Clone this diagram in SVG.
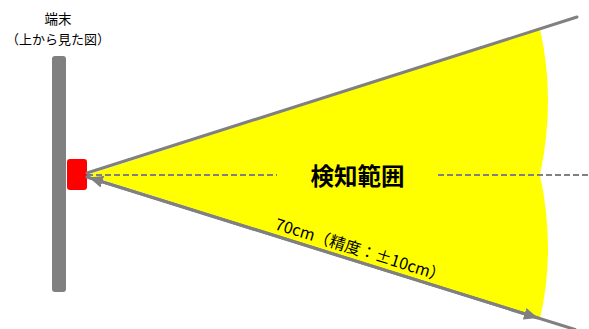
<svg xmlns="http://www.w3.org/2000/svg" width="589" height="329" viewBox="0 0 589 329">
<defs>
<style>
.ln{stroke:#808080;stroke-width:3;fill:none;stroke-linecap:round}
.dash{stroke:#808080;stroke-width:2;fill:none;stroke-dasharray:6 3}
.t{font-family:"Noto Sans CJK JP","Noto Sans",sans-serif;fill:#000}
</style>
<marker id="ah" viewBox="0 0 14 12" refX="14" refY="6" markerWidth="14" markerHeight="12" markerUnits="userSpaceOnUse" orient="auto-start-reverse">
<path d="M0,0 L14,6 L0,12 Z" fill="#808080"/>
</marker>
</defs>
<g id="range">
<path d="M87,175 L540,29 Q556,100 540,175 Q556,250 540,318.5 Z" fill="#FFFF00"/>
</g>
<g id="device">
<rect x="52" y="56" width="14" height="236" rx="3" fill="#808080"/>
<rect x="67" y="159" width="20" height="31" rx="3" fill="#FF0000"/>
<text class="t" x="58" y="24" font-size="13.5" text-anchor="middle">端末</text>
<text class="t" x="58" y="43.5" font-size="13" text-anchor="middle">（上から見た図）</text>
</g>
<g id="connectors">
<line class="ln" x1="87" y1="173" x2="577" y2="17"/>
<line class="ln" x1="87" y1="177" x2="575" y2="329.5"/>
<path d="M89,177.6 L538,318" stroke="#808080" stroke-width="3" fill="none" marker-start="url(#ah)" marker-end="url(#ah)"/>
<line class="dash" x1="87" y1="175" x2="277" y2="175"/>
<line class="dash" x1="438" y1="175" x2="589" y2="175"/>
</g>
<g id="labels">
<text class="t" x="357.5" y="184.5" font-size="23.5" font-weight="bold" text-anchor="middle">検知範囲</text>
<text class="t" x="274" y="229" font-size="16" transform="rotate(17.4 274 229)">70cm（精度：±10cm）</text>
</g>
</svg>
